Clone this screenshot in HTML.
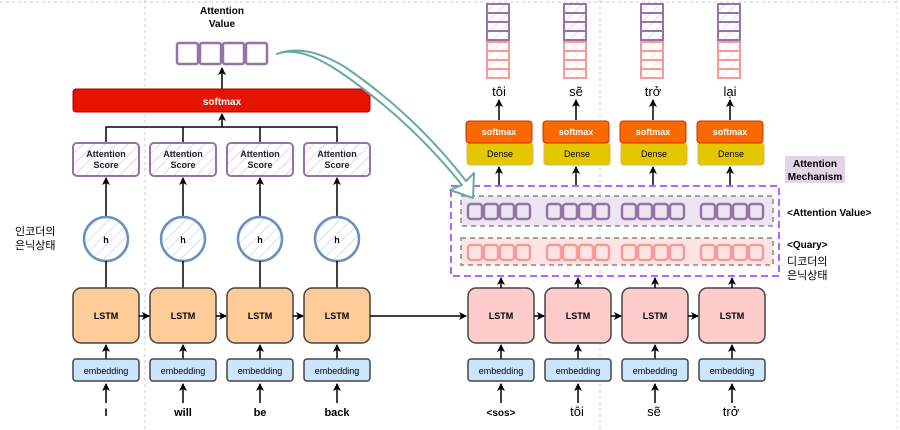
<!DOCTYPE html>
<html><head><meta charset="utf-8"><style>
html,body{margin:0;padding:0;background:#fff}
svg{display:block}
text{font-family:"Liberation Sans","Noto Sans CJK KR",sans-serif}
</style></head><body>
<svg width="900" height="430" viewBox="0 0 900 430" xmlns="http://www.w3.org/2000/svg">
<defs>
<marker id="ar" markerWidth="8" markerHeight="8" refX="7" refY="4" orient="auto" markerUnits="userSpaceOnUse"><path d="M0,0 L8,4 L0,8 L2,4 z" fill="#000"/></marker>
<pattern id="hp" width="8" height="8" patternUnits="userSpaceOnUse" patternTransform="rotate(45)"><rect width="8" height="8" fill="#fff"/><line x1="0" y1="0" x2="0" y2="8" stroke="#e2d6ec" stroke-width="2"/></pattern>
<pattern id="hb" width="8" height="8" patternUnits="userSpaceOnUse" patternTransform="rotate(45)"><rect width="8" height="8" fill="#fff"/><line x1="0" y1="0" x2="0" y2="8" stroke="#d4e1f2" stroke-width="2"/></pattern>
<pattern id="hpk" width="8" height="8" patternUnits="userSpaceOnUse" patternTransform="rotate(45)"><rect width="8" height="8" fill="#fff"/><line x1="0" y1="0" x2="0" y2="8" stroke="#fbe0e0" stroke-width="2"/></pattern>
</defs>
<line x1="0" y1="2" x2="900" y2="2" stroke="#ccc" stroke-dasharray="3,3"/>
<line x1="145" y1="0" x2="145" y2="430" stroke="#ccc" stroke-dasharray="3,3"/>
<line x1="600" y1="0" x2="600" y2="430" stroke="#ccc" stroke-dasharray="3,3"/>
<line x1="897" y1="0" x2="897" y2="430" stroke="#ddd" stroke-dasharray="3,3"/>

<text x="222" y="14" font-size="10" font-weight="bold" text-anchor="middle">Attention</text>
<text x="222" y="27" font-size="10" font-weight="bold" text-anchor="middle">Value</text>
<g fill="#fff" stroke="#9673a6" stroke-width="2.5">
<rect x="177" y="43" width="21" height="21" rx="2"/><rect x="200" y="43" width="21" height="21" rx="2"/><rect x="223" y="43" width="21" height="21" rx="2"/><rect x="246" y="43" width="21" height="21" rx="2"/>
</g>
<line x1="222" y1="89" x2="222" y2="68" stroke="#000" stroke-width="1.5" marker-end="url(#ar)"/>
<rect x="73" y="89" width="297" height="23" rx="3" fill="#e51400" stroke="#b20000"/>
<text x="222" y="105" font-size="10" font-weight="bold" fill="#fff" text-anchor="middle">softmax</text>
<polyline points="106,143 106,127 337,127 337,143" fill="none" stroke="#000" stroke-width="1.5"/>
<line x1="183" y1="127" x2="183" y2="143" stroke="#000" stroke-width="1.5"/>
<line x1="260" y1="127" x2="260" y2="143" stroke="#000" stroke-width="1.5"/>
<line x1="222" y1="127" x2="222" y2="114" stroke="#000" stroke-width="1.5" marker-end="url(#ar)"/>

<g font-size="9" text-anchor="middle">
<g id="e1">
<rect x="73" y="143" width="66" height="33" rx="4" fill="url(#hp)" stroke="#9673a6" stroke-width="2"/>
<text x="106" y="157" font-size="9" font-weight="bold" fill="#222">Attention</text><text x="106" y="168" font-size="9" font-weight="bold" fill="#222">Score</text>
<line x1="106" y1="217" x2="106" y2="178" stroke="#000" stroke-width="1.5" marker-end="url(#ar)"/>
<circle cx="106" cy="239" r="22" fill="url(#hb)" stroke="#6c8ebf" stroke-width="2.5"/>
<text x="106" y="243" font-weight="bold">h</text>
<line x1="106" y1="261" x2="106" y2="288" stroke="#000" stroke-width="1.5"/>
<rect x="73" y="288" width="66" height="55" rx="8" fill="#ffcc99" stroke="#444" stroke-width="1.5"/>
<text x="106" y="319" font-weight="bold">LSTM</text>
<line x1="106" y1="359" x2="106" y2="345" stroke="#000" stroke-width="1.5" marker-end="url(#ar)"/>
<rect x="73" y="359" width="66" height="22" rx="3" fill="#cce5ff" stroke="#444" stroke-width="1.5"/>
<text x="106" y="374" font-size="9">embedding</text>
<line x1="106" y1="403" x2="106" y2="384" stroke="#000" stroke-width="1.5" marker-end="url(#ar)"/>
</g>
<use href="#e1" transform="translate(77,0)"/>
<use href="#e1" transform="translate(154,0)"/>
<use href="#e1" transform="translate(231,0)"/>
</g>
<g stroke="#000" stroke-width="1.5">
<line x1="139" y1="316" x2="149" y2="316" marker-end="url(#ar)"/>
<line x1="216" y1="316" x2="226" y2="316" marker-end="url(#ar)"/>
<line x1="293" y1="316" x2="303" y2="316" marker-end="url(#ar)"/>
<line x1="370" y1="316" x2="466" y2="316" marker-end="url(#ar)"/>
</g>
<g font-size="11" font-weight="bold" text-anchor="middle">
<text x="106" y="416">I</text><text x="183" y="416">will</text><text x="260" y="416">be</text><text x="337" y="416">back</text>
</g>
<text x="15" y="235" font-size="11">인코더의</text>
<text x="15" y="249" font-size="11">은닉상태</text>

<g font-size="9" text-anchor="middle">
<g id="d1">
<rect x="468" y="288" width="66" height="55" rx="8" fill="#ffcccc" stroke="#444" stroke-width="1.5"/>
<text x="501" y="319" font-weight="bold">LSTM</text>
<line x1="501" y1="359" x2="501" y2="345" stroke="#000" stroke-width="1.5" marker-end="url(#ar)"/>
<rect x="468" y="359" width="66" height="22" rx="3" fill="#cce5ff" stroke="#444" stroke-width="1.5"/>
<text x="501" y="374">embedding</text>
<line x1="501" y1="403" x2="501" y2="384" stroke="#000" stroke-width="1.5" marker-end="url(#ar)"/>
<line x1="501" y1="288" x2="501" y2="278" stroke="#000" stroke-width="1.5" marker-end="url(#ar)"/>
<line x1="499" y1="185" x2="499" y2="167" stroke="#000" stroke-width="1.5" marker-end="url(#ar)"/>
<rect x="467" y="143" width="66" height="22" rx="3" fill="#e3c800" stroke="#d6b656"/>
<text x="500" y="157">Dense</text>
<rect x="466" y="121" width="66" height="22" rx="3" fill="#fa6800" stroke="#c73500"/>
<text x="499" y="135" fill="#fff" font-weight="bold">softmax</text>
<line x1="499" y1="120" x2="499" y2="100" stroke="#000" stroke-width="1.5" marker-end="url(#ar)"/>
<g fill="url(#hp)" stroke="#9673a6" stroke-width="2">
<rect x="487" y="4" width="22" height="9"/><rect x="487" y="13" width="22" height="9"/><rect x="487" y="22" width="22" height="9"/><rect x="487" y="31" width="22" height="9"/>
</g>
<g fill="url(#hpk)" stroke="#f19c99" stroke-width="2">
<rect x="487" y="42" width="22" height="9"/><rect x="487" y="51" width="22" height="9"/><rect x="487" y="60" width="22" height="9"/><rect x="487" y="69" width="22" height="9"/>
</g>
</g>
<use href="#d1" transform="translate(77,0)"/>
<use href="#d1" transform="translate(154,0)"/>
<use href="#d1" transform="translate(231,0)"/>
</g>
<g stroke="#000" stroke-width="1.5">
<line x1="534" y1="316" x2="544" y2="316" marker-end="url(#ar)"/>
<line x1="611" y1="316" x2="621" y2="316" marker-end="url(#ar)"/>
<line x1="688" y1="316" x2="698" y2="316" marker-end="url(#ar)"/>
</g>
<g font-size="13" text-anchor="middle">
<text x="499" y="96">tôi</text><text x="576" y="96">sẽ</text><text x="653" y="96">trở</text><text x="730" y="96">lại</text>
<text x="577" y="416">tôi</text><text x="654" y="416">sẽ</text><text x="731" y="416">trở</text>
</g>
<text x="501" y="416" font-size="10" font-weight="bold" text-anchor="middle">&lt;sos&gt;</text>

<rect x="461" y="196" width="312" height="30" fill="#ede6f2"/>
<rect x="461" y="238" width="312" height="27" fill="#fde4e4"/>
<rect x="461" y="196" width="312" height="30" fill="none" stroke="#888" stroke-width="1.5" stroke-dasharray="5,4"/>
<rect x="461" y="238" width="312" height="27" fill="none" stroke="#888" stroke-width="1.5" stroke-dasharray="5,4"/>
<g id="cells" fill="none" stroke-width="2.5">
<g stroke="#9673a6">
<rect x="468" y="204" width="14" height="15" rx="3"/><rect x="484" y="204" width="14" height="15" rx="3"/><rect x="500" y="204" width="14" height="15" rx="3"/><rect x="516" y="204" width="14" height="15" rx="3"/>
</g>
<g stroke="#f19c99">
<rect x="468" y="245" width="14" height="15" rx="3"/><rect x="484" y="245" width="14" height="15" rx="3"/><rect x="500" y="245" width="14" height="15" rx="3"/><rect x="516" y="245" width="14" height="15" rx="3"/>
</g>
</g>
<use href="#cells" transform="translate(79,0)"/>
<use href="#cells" transform="translate(154,0)"/>
<use href="#cells" transform="translate(233,0)"/>
<rect x="451" y="186" width="328" height="90" fill="none" stroke="#b266ff" stroke-width="2" stroke-dasharray="7,4"/>
<rect x="785" y="156" width="60" height="27" fill="#e1d5e7"/>
<text x="815" y="167" font-size="10" font-weight="bold" text-anchor="middle">Attention</text>
<text x="815" y="180" font-size="10" font-weight="bold" text-anchor="middle">Mechanism</text>
<text x="787" y="216" font-size="10" font-weight="bold">&lt;Attention Value&gt;</text>
<text x="787" y="248" font-size="10" font-weight="bold">&lt;Quary&gt;</text>
<text x="787" y="265" font-size="11">디코더의</text>
<text x="787" y="279" font-size="11">은닉상태</text>

<path d="M277,54 Q300,45 340,72 Q410,120 462,185 L450,190 L473,198 L474,173 L466,181 Q415,115 345,67 Q305,43 277,54 z" fill="#fff" stroke="#67ab9f" stroke-width="2" stroke-linejoin="round"/>
</svg>
</body></html>
